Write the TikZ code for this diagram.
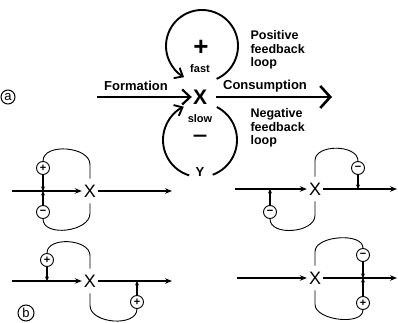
\documentclass[tikz,border=0pt]{standalone}
\usepackage{fontspec}
\setmainfont{Liberation Sans}
\usetikzlibrary{arrows.meta,positioning}

\tikzset{
  tag/.style={draw, circle, line width=1pt, minimum size=14pt, inner sep=0pt, font=\fontsize{13}{13}\selectfont},
  bigx/.style={inner sep=1pt, font=\bfseries\fontsize{21}{21}\selectfont},
  lbl/.style={font=\bfseries\fontsize{13}{13}\selectfont},
  side/.style={anchor=west, align=left, font=\bfseries\fontsize{12.5}{13.4}\selectfont},
  sign/.style={inner sep=0pt, font=\bfseries\fontsize{26}{26}\selectfont},
  speed/.style={inner sep=0pt, font=\bfseries\fontsize{11}{11}\selectfont},
  formflux/.style={line width=2.3pt, -{Straight Barb[length=8pt,width=15pt,line width=2.2pt]}},
  consflux/.style={line width=2.9pt, shorten <=8pt, -{Straight Barb[length=10pt,width=22pt,line width=2.6pt]}},
  loopline/.style={line width=1.9pt},
  looparrow/.style={line width=1.9pt, -{Straight Barb[length=7pt,width=12pt,line width=1.9pt]}},
  smallx/.style={inner xsep=2pt, inner ysep=6pt, font=\fontsize{18}{18}\selectfont},
  flow/.style={line width=1.1pt, -{Stealth[length=7pt,width=5.5pt]}},
  fb/.style={line width=0.9pt},
  modc/.style={draw, circle, line width=0.9pt, minimum size=13pt, inner sep=0pt, font=\bfseries\fontsize{11}{11}\selectfont},
  mod/.style={line width=1.3pt, -{Stealth[length=4.5pt,width=4pt]}}
}

\begin{document}
\begin{tikzpicture}[x=1pt, y=1pt]
  \useasboundingbox (0,0) rectangle (398,323);

  % (a) formation / consumption with the two loops
  \node (la) [tag] at (8,226) {a};
  \node (xa) [bigx] at (200,226) {X};
  \coordinate (fin) at (97,226);
  \coordinate (cout) at (332,226);
  \draw[formflux] (fin) -- (xa);
  \draw[consflux] (xa) -- (cout);
  \node (form) [lbl] at (136,237) {Formation};
  \node (cons) [lbl] at (265,237) {Consumption};

  \coordinate (ctop) at (202,277);
  \coordinate (cbot) at (200,183);
  \draw[looparrow] (ctop) ++(-66:36) arc[start angle=-66, end angle=240, radius=36];
  \draw[loopline] (cbot) ++(63:37) arc[start angle=63, end angle=-70, radius=37];
  \draw[looparrow] (cbot) ++(253:37) arc[start angle=253, end angle=116, radius=37];
  \node (ya) [lbl] at (200,151) {Y};

  \node (plus) [sign] at (201,275) {+};
  \node (fast) [speed] at (200,254) {fast};
  \node (slow) [speed] at (200,204) {slow};
  \node (minus) [sign, font=\bfseries\fontsize{19}{19}\selectfont, xscale=1.35, transform shape] at (200,184) {−};
  \node (pos) [side] at (247,273) {Positive\\feedback\\loop};
  \node (neg) [side] at (247,195) {Negative\\feedback\\loop};

  % (b) four regulation schemes
  \node (lb) [tag, minimum size=16pt] at (26,10) {b};

  \node (x1) [smallx] at (90,132) {X};
  \coordinate (i1) at (12,132);
  \coordinate (o1) at (172,132);
  \draw[flow] (i1) -- (x1);
  \draw[flow] (x1) -- (o1);
  \node (p1) [modc] at (43,155) {+};
  \node (m1) [modc] at (43,111) {−};
  \coordinate (j1) at (43,132);
  \draw[mod] (p1) -- (j1);
  \draw[mod] (m1) -- (j1);
  \draw[fb] (x1.north) -- ++(0,14) to[out=90,in=90] (p1.north);
  \draw[fb] (x1.south) -- ++(0,-10) to[out=-90,in=-90] (m1.south);

  \node (x2) [smallx] at (315,134) {X};
  \coordinate (i2) at (235,134);
  \coordinate (o2) at (397,134);
  \draw[flow] (i2) -- (x2);
  \draw[flow] (x2) -- (o2);
  \node (m2a) [modc] at (358,155) {−};
  \node (m2b) [modc] at (270,111) {−};
  \coordinate (j2a) at (358,134);
  \coordinate (j2b) at (270,134);
  \draw[mod] (m2a) -- (j2a);
  \draw[mod] (m2b) -- (j2b);
  \draw[fb] (x2.north) -- ++(0,16) to[out=90,in=90] (m2a.north);
  \draw[fb] (x2.south) -- ++(0,-14) to[out=-90,in=-90] (m2b.south);

  \node (x3) [smallx] at (90,42) {X};
  \coordinate (i3) at (12,42);
  \coordinate (o3) at (172,42);
  \draw[flow] (i3) -- (x3);
  \draw[flow] (x3) -- (o3);
  \node (p3a) [modc] at (47,63) {+};
  \node (p3b) [modc] at (137,21) {+};
  \coordinate (j3a) at (47,42);
  \coordinate (j3b) at (137,42);
  \draw[mod] (p3a) -- (j3a);
  \draw[mod] (p3b) -- (j3b);
  \draw[fb] (x3.north) -- ++(0,13) to[out=90,in=90] (p3a.north);
  \draw[fb] (x3.south) -- ++(0,-12) to[out=-90,in=-90] (p3b.south);

  \node (x4) [smallx] at (315,45) {X};
  \coordinate (i4) at (237,45);
  \coordinate (o4) at (397,45);
  \draw[flow] (i4) -- (x4);
  \draw[flow] (x4) -- (o4);
  \node (m4) [modc] at (363,68) {−};
  \node (p4) [modc] at (363,20) {+};
  \coordinate (j4) at (363,45);
  \draw[mod] (m4) -- (j4);
  \draw[mod] (p4) -- (j4);
  \draw[fb] (x4.north) -- ++(0,14) to[out=90,in=90,looseness=0.85] (m4.north);
  \draw[fb] (x4.south) -- ++(0,-14) to[out=-90,in=-90,looseness=0.85] (p4.south);
\end{tikzpicture}
\end{document}
